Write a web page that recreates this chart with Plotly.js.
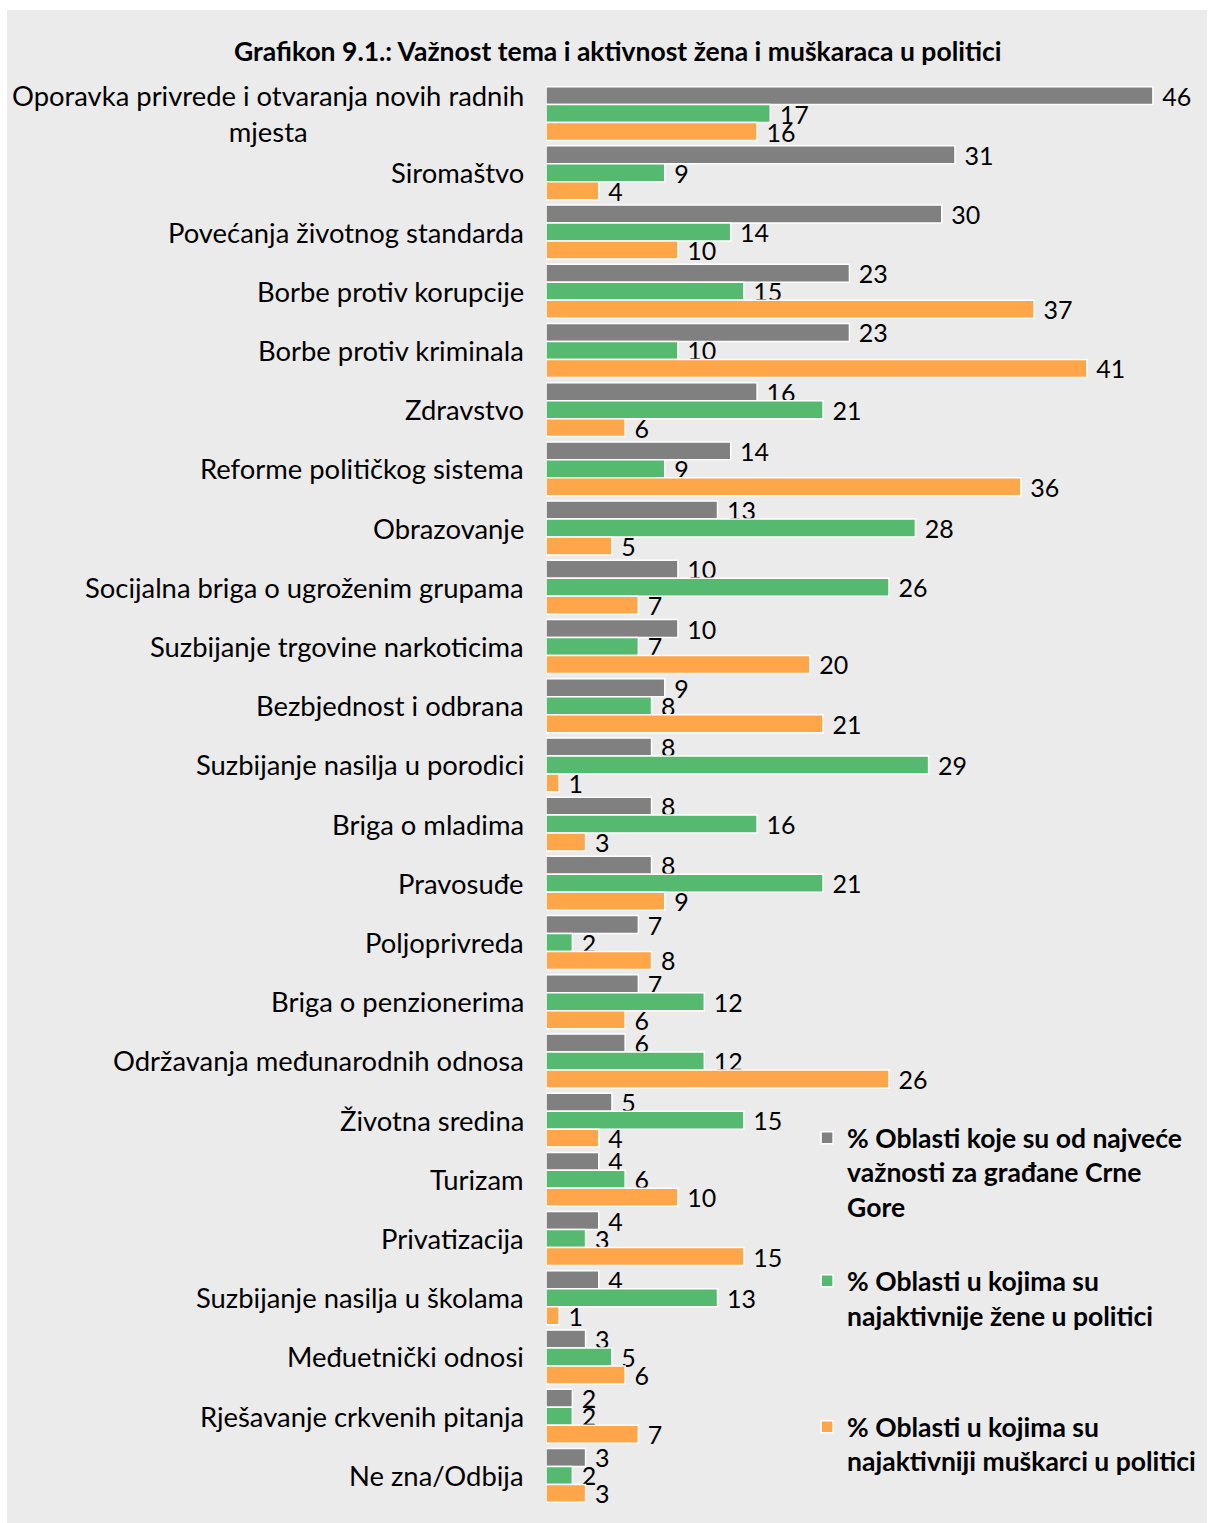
<!DOCTYPE html>
<html>
<head>
<meta charset="utf-8">
<script src="https://cdn.plot.ly/plotly-3.0.1.min.js"></script>
<style>
  html, body { margin: 0; padding: 0; background: #ffffff; }
  #chart { position: absolute; left: 7px; top: 10px; width: 1200px; height: 1513px; }
</style>
</head>
<body>
<div id="chart"></div>
<script>
const categories = [
  "Oporavka privrede i otvaranja novih radnih\nmjesta",
  "Siromaštvo",
  "Povećanja životnog standarda",
  "Borbe protiv korupcije",
  "Borbe protiv kriminala",
  "Zdravstvo",
  "Reforme političkog sistema",
  "Obrazovanje",
  "Socijalna briga o ugroženim grupama",
  "Suzbijanje trgovine narkoticima",
  "Bezbjednost i odbrana",
  "Suzbijanje nasilja u porodici",
  "Briga o mladima",
  "Pravosuđe",
  "Poljoprivreda",
  "Briga o penzionerima",
  "Održavanja međunarodnih odnosa",
  "Životna sredina",
  "Turizam",
  "Privatizacija",
  "Suzbijanje nasilja u školama",
  "Međuetnički odnosi",
  "Rješavanje crkvenih pitanja",
  "Ne zna/Odbija"
];
const importance = [46, 31, 30, 23, 23, 16, 14, 13, 10, 10, 9, 8, 8, 8, 7, 7, 6, 5, 4, 4, 4, 3, 2, 3];
const women      = [17, 9, 14, 15, 10, 21, 9, 28, 26, 7, 8, 29, 16, 21, 2, 12, 12, 15, 6, 3, 13, 5, 2, 2];
const men        = [16, 4, 10, 37, 41, 6, 36, 5, 7, 20, 21, 1, 3, 9, 8, 6, 26, 4, 10, 15, 1, 6, 7, 3];

const seriesNames = [
  "% Oblasti koje su od najveće<br>važnosti za građane Crne<br>Gore",
  "% Oblasti u kojima su<br>najaktivnije žene u politici",
  "% Oblasti u kojima su<br>najaktivniji muškarci u politici"
];
const colors = ["#808080", "#55BA70", "#FFA54A"];

const FONT = "Lato, 'Open Sans', sans-serif";

const keys = categories.map(c => c.replace("\n", " "));
const values = [importance, women, men];
const legends = ["legend", "legend2", "legend3"];

const traces = values.map((v, i) => ({
  type: "bar",
  orientation: "h",
  y: keys,
  x: v,
  name: seriesNames[i],
  legend: legends[i],
  marker: { color: colors[i], line: { color: "#ffffff", width: 1.5 } },
  text: v.map(n => "\u00a0" + n),
  textposition: "outside",
  constraintext: "none",
  cliponaxis: false,
  textfont: { family: FONT, size: 25, color: "#000000" },
  hoverinfo: "x+y"
}));

const annotations = categories.map((c, i) => ({
  xref: "paper", yref: "y",
  x: 0, y: keys[i],
  xanchor: "right", yanchor: "middle",
  xshift: -20,
  align: "center",
  text: c.replace("\n", "<br>"),
  showarrow: false,
  font: { family: FONT, size: 27.4, color: "#000000" }
}));

const legendBase = {
  xref: "paper", yref: "paper",
  xanchor: "left", yanchor: "top",
  bgcolor: "rgba(0,0,0,0)",
  valign: "top",
  font: { family: FONT, size: 26.5, color: "#000000", weight: "bold" },
  itemwidth: 30
};

const layout = {
  width: 1200,
  height: 1513,
  paper_bgcolor: "#ebebeb",
  plot_bgcolor: "#ebebeb",
  margin: { l: 539, r: 0, t: 74, b: 18, autoexpand: false },
  bargap: 0.09,
  bargroupgap: 0,
  barmode: "group",
  title: {
    text: "<b>Grafikon 9.1.: Važnost tema i aktivnost žena i muškaraca u politici</b>",
    xref: "container", yref: "container",
    x: 0.509, y: 1 - 42 / 1513,
    xanchor: "center", yanchor: "middle",
    font: { family: FONT, size: 26.5, color: "#000000" }
  },
  xaxis: {
    range: [0, 50.1],
    showgrid: false, zeroline: false, showline: false,
    showticklabels: false, ticks: "", fixedrange: true
  },
  yaxis: {
    type: "category",
    categoryorder: "array",
    categoryarray: keys,
    range: [keys.length - 0.5, -0.5],
    autorange: false,
    showgrid: false, zeroline: false, showline: false,
    showticklabels: false, ticks: ""
  },
  annotations: annotations,
  legend:  Object.assign({}, legendBase, { x: 0.395, y: 0.2752 }),
  legend2: Object.assign({}, legendBase, { x: 0.395, y: 0.1745 }),
  legend3: Object.assign({}, legendBase, { x: 0.395, y: 0.0718 }),
  showlegend: true
};

Plotly.newPlot("chart", traces, layout, { displayModeBar: false, staticPlot: true });
</script>
</body>
</html>
